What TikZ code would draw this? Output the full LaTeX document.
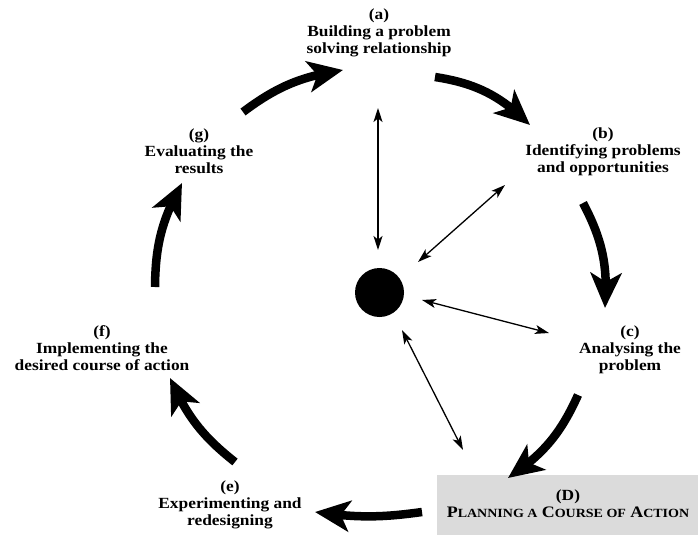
\documentclass[tikz,border=0pt]{standalone}
\usepackage{fontspec}
\setmainfont{Liberation Serif}[FakeStretch=1.12]
\usetikzlibrary{arrows.meta,bending}
\newcommand\capbig[1]{{\fontsize{16}{18}\selectfont #1}}
\newcommand\capsmall[1]{{\fontsize{12.5}{18}\selectfont #1}}
\begin{document}
\begin{tikzpicture}[x=1pt,y=-1pt,
  lbl/.style={align=center,inner sep=0pt,font=\bfseries\fontsize{15.5}{17.2}\selectfont},
  cycle/.style={line width=8.5pt,-{Stealth[length=35pt,width=31pt,inset=9pt,flex]}},
  link/.style={line width=1.3pt,{Stealth[length=14pt,width=9pt,inset=3.5pt]}-{Stealth[length=14pt,width=9pt,inset=3.5pt]}}]
  % canvas
  \fill[white] (0,0) rectangle (698,535);
  \useasboundingbox (0,0) rectangle (698,535);
  % shaded stage box
  \fill[gray!28] (437,475) rectangle (698,535);

  % stage labels
  \node[lbl] (a) at (379,33) {(a)\\Building a problem\\solving relationship};
  \node[lbl] (b) at (603,152) {(b)\\Identifying problems\\and opportunities};
  \node[lbl] (c) at (630,350) {(c)\\Analysing the\\problem};
  \node[lbl] (d) at (568,504) {(D)\\\capbig{P}\capsmall{LANNING A} \capbig{C}\capsmall{OURSE OF} \capbig{A}\capsmall{CTION}};
  \node[lbl] (e) at (230,505) {(e)\\Experimenting and\\redesigning};
  \node[lbl] (f) at (102,348) {(f)\\Implementing the\\desired course of action};
  \node[lbl] (g) at (199,151) {(g)\\Evaluating the\\results};

  % centre
  \fill (379.5,292.5) circle (24.5);
  \coordinate (hub) at (379.5,292.5);

  % end points of the cycle arrows
  \coordinate (g1) at (243,112); \coordinate (a0) at (343,70);
  \coordinate (a1) at (435,77);  \coordinate (b0) at (530,125);
  \coordinate (b1) at (583,203); \coordinate (c0) at (605,308);
  \coordinate (c1) at (578,395); \coordinate (d0) at (508,478);
  \coordinate (d1) at (422,512); \coordinate (e0) at (315,512);
  \coordinate (e1) at (235,462); \coordinate (f0) at (170,378);
  \coordinate (f1) at (155,287); \coordinate (g0) at (182,183);

  \draw[cycle] (g1) to[bend left=14] (a0);
  \draw[cycle] (a1) to[bend left=18] (b0);
  \draw[cycle] (b1) to[bend left=16] (c0);
  \draw[cycle] (c1) to[bend left=16] (d0);
  \draw[cycle] (d1) to[bend left=8] (e0);
  \draw[cycle] (e1) to[bend left=14] (f0);
  \draw[cycle] (f1) to[bend left=14] (g0);

  % links to the centre
  \coordinate (ha) at (378,108); \coordinate (hat) at (378,250);
  \coordinate (hb) at (505,185); \coordinate (hbt) at (418,262);
  \coordinate (hc) at (549,333); \coordinate (hct) at (422,300);
  \coordinate (hd) at (463,450); \coordinate (hdt) at (402,330);
  \draw[link] (ha) -- (hat);
  \draw[link] (hb) -- (hbt);
  \draw[link] (hc) -- (hct);
  \draw[link] (hd) -- (hdt);
\end{tikzpicture}
\end{document}
